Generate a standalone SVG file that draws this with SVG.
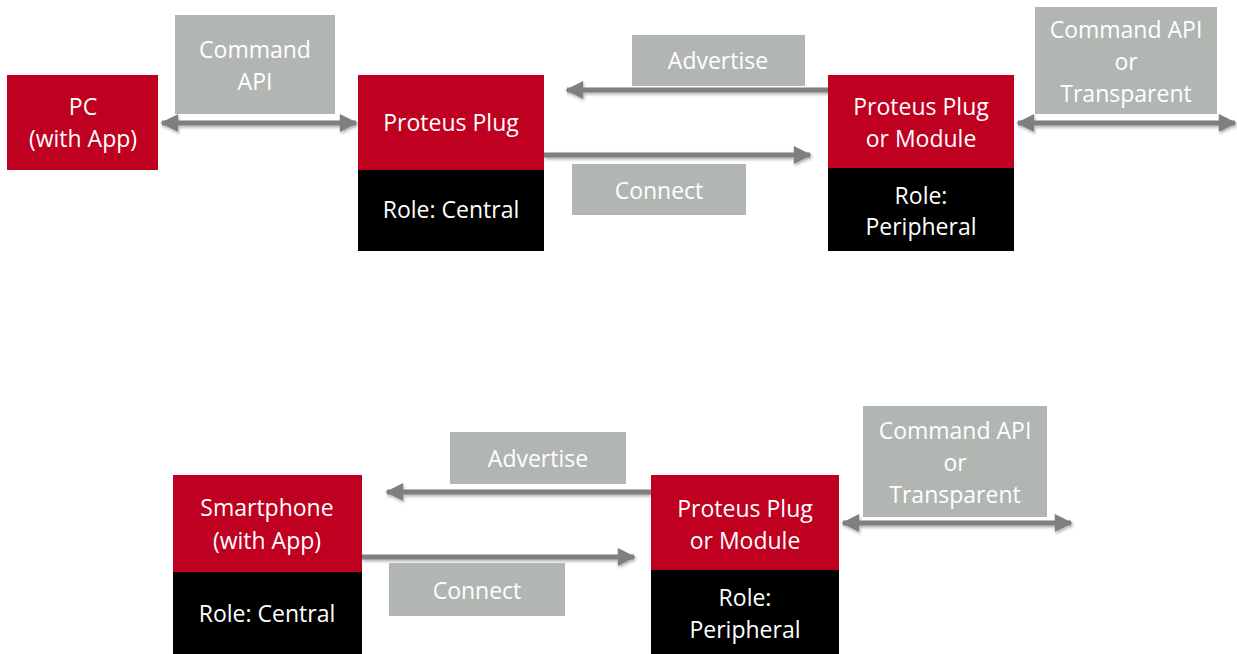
<svg xmlns="http://www.w3.org/2000/svg" width="1237" height="654" viewBox="0 0 1237 654">
<style>
.red{fill:#C00020}
.blk{fill:#000000}
.gray{fill:#B2B6B3}
text{font-family:"Open Sans","Liberation Sans",sans-serif;font-size:23px;fill:#FFFFFF;text-anchor:middle}
.conn{stroke:#7F7F7F;stroke-width:5;fill:none}
</style>
<defs>
<marker id="ah" viewBox="0 0 10 10" refX="9" refY="5" markerWidth="4" markerHeight="3.6" orient="auto-start-reverse" markerUnits="strokeWidth">
<path d="M0,0 L10,5 L0,10 z" fill="#7F7F7F"/>
</marker>
<filter id="sh" x="-5%" y="-50%" width="110%" height="200%">
<feDropShadow dx="1" dy="2" stdDeviation="1.5" flood-color="#000" flood-opacity="0.3"/>
</filter>
</defs>

<g id="connectors" filter="url(#sh)">
<line class="conn" x1="162" y1="123" x2="356" y2="123" marker-start="url(#ah)" marker-end="url(#ah)"/>
<line class="conn" x1="828" y1="90" x2="567" y2="90" marker-end="url(#ah)"/>
<line class="conn" x1="544" y1="155" x2="810" y2="155" marker-end="url(#ah)"/>
<line class="conn" x1="1018" y1="123" x2="1235" y2="123" marker-start="url(#ah)" marker-end="url(#ah)"/>
<line class="conn" x1="651" y1="492" x2="387" y2="492" marker-end="url(#ah)"/>
<line class="conn" x1="362" y1="557" x2="634" y2="557" marker-end="url(#ah)"/>
<line class="conn" x1="843" y1="523" x2="1071" y2="523" marker-start="url(#ah)" marker-end="url(#ah)"/>
</g>

<g id="pc">
<rect class="red" x="7" y="75" width="151" height="95"/>
<text x="83" y="115">PC</text>
<text x="83" y="147">(with App)</text>
</g>

<g id="label-command-api">
<rect class="gray" x="175" y="15" width="160" height="99"/>
<text x="255" y="58">Command</text>
<text x="255" y="90">API</text>
</g>

<g id="proteus-plug-central">
<rect class="red" x="358" y="75" width="186" height="95"/>
<rect class="blk" x="358" y="170" width="186" height="81"/>
<text x="451" y="131">Proteus Plug</text>
<text x="451" y="218">Role: Central</text>
</g>

<g id="label-advertise-top">
<rect class="gray" x="632" y="35" width="173" height="51"/>
<text x="718" y="69">Advertise</text>
</g>

<g id="label-connect-top">
<rect class="gray" x="572" y="164" width="174" height="51"/>
<text x="659" y="199">Connect</text>
</g>

<g id="proteus-module-top">
<rect class="red" x="828" y="75" width="186" height="93"/>
<rect class="blk" x="828" y="168" width="186" height="83"/>
<text x="921" y="115">Proteus Plug</text>
<text x="921" y="147">or Module</text>
<text x="921" y="204">Role:</text>
<text x="921" y="235">Peripheral</text>
</g>

<g id="label-cmd-transparent-top">
<rect class="gray" x="1035" y="7" width="182" height="107"/>
<text x="1126" y="38">Command API</text>
<text x="1126" y="70">or</text>
<text x="1126" y="102">Transparent</text>
</g>

<g id="smartphone">
<rect class="red" x="173" y="475" width="189" height="97"/>
<rect class="blk" x="173" y="572" width="189" height="82"/>
<text x="267" y="516">Smartphone</text>
<text x="267" y="549">(with App)</text>
<text x="267" y="622">Role: Central</text>
</g>

<g id="label-advertise-bottom">
<rect class="gray" x="450" y="432" width="176" height="52"/>
<text x="538" y="467">Advertise</text>
</g>

<g id="label-connect-bottom">
<rect class="gray" x="389" y="563" width="176" height="53"/>
<text x="477" y="599">Connect</text>
</g>

<g id="proteus-module-bottom">
<rect class="red" x="651" y="475" width="188" height="95"/>
<rect class="blk" x="651" y="570" width="188" height="84"/>
<text x="745" y="517">Proteus Plug</text>
<text x="745" y="549">or Module</text>
<text x="745" y="606">Role:</text>
<text x="745" y="638">Peripheral</text>
</g>

<g id="label-cmd-transparent-bottom">
<rect class="gray" x="863" y="406" width="184" height="111"/>
<text x="955" y="439">Command API</text>
<text x="955" y="471">or</text>
<text x="955" y="503">Transparent</text>
</g>
</svg>
